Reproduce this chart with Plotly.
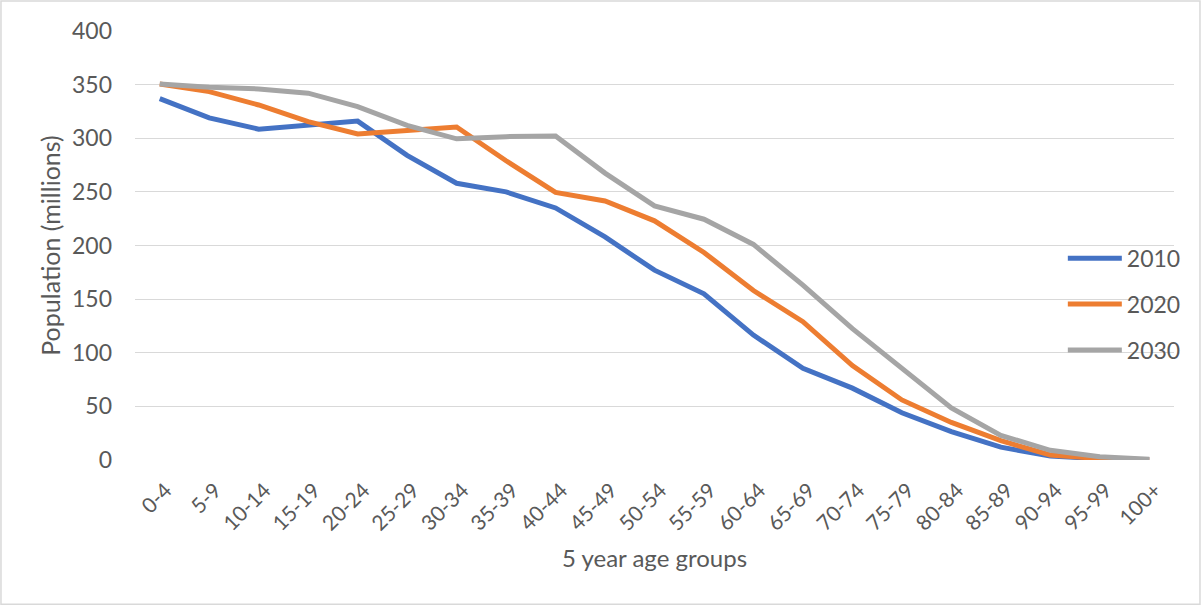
import plotly.graph_objects as go

# age groups on the category axis
age_groups = ['0-4', '5-9', '10-14', '15-19', '20-24', '25-29', '30-34', '35-39',
              '40-44', '45-49', '50-54', '55-59', '60-64', '65-69', '70-74', '75-79',
              '80-84', '85-89', '90-94', '95-99', '100+']

# population in millions
pop_2010 = [337, 319, 308.5, 312, 316, 284, 258, 250, 235, 208, 177, 155, 116.5,
            85.5, 67, 44, 26.5, 12, 3.7, 1.2, 0.3]
pop_2020 = [350.5, 343.5, 331, 315.5, 304, 307, 310.5, 279, 249.5, 241.5, 223,
            193.5, 158, 129, 88, 56, 35, 18, 4.7, 1.3, 0.3]
pop_2030 = [350.5, 347.5, 346, 342, 329.5, 312, 299.5, 301.5, 302, 267.5, 237,
            224.5, 201, 163, 122.5, 85.5, 48.5, 23, 9, 3, 0.6]

series = [('2010', pop_2010, '#4472C4'),
          ('2020', pop_2020, '#ED7D31'),
          ('2030', pop_2030, '#A5A5A5')]

FONT = 'Lato, Carlito, Calibri, sans-serif'
FONT_SIZE = 23
GREY_TEXT = '#595959'
GRID = '#D9D9D9'

fig = go.Figure()

for name, values, color in series:
    fig.add_trace(go.Scatter(
        x=age_groups,
        y=values,
        mode='lines',
        name=name,
        legendgroup=name,
        line=dict(color=color, width=5),
    ))

# outer chart border (plot area spans 135..1174 x 31..460 px)
fig.add_shape(
    type='rect', xref='paper', yref='paper',
    x0=-0.129, x1=1.025, y0=-0.336, y1=1.070,
    line=dict(color=GRID, width=1.5), fillcolor='rgba(0,0,0,0)',
    layer='below',
)

fig.update_layout(
    width=1202,
    height=606,
    # legend sits over the plot like in Excel, so don't let it push the margins
    margin=dict(l=135, r=28, t=31, b=146, autoexpand=False),
    plot_bgcolor='white',
    paper_bgcolor='white',
    font=dict(family=FONT, size=FONT_SIZE, color=GREY_TEXT),
    showlegend=True,
    legend=dict(
        x=0.893, xanchor='left',
        y=0.363, yanchor='middle',
        bgcolor='rgba(0,0,0,0)',
        tracegroupgap=13,
        itemwidth=54,
        font=dict(size=FONT_SIZE, color=GREY_TEXT),
    ),
    xaxis=dict(
        type='category',
        range=[-0.5, len(age_groups) - 0.5],
        tickangle=-45,
        showgrid=False,
        showline=False,
        zeroline=False,
        ticks='',
        ticklabelstandoff=13,
        ticklabelshift=6,
        tickfont=dict(size=21),
        title=dict(text='5 year age groups', standoff=16,
                   font=dict(size=24, color=GREY_TEXT)),
    ),
    yaxis=dict(
        range=[0, 400],
        dtick=50,
        showgrid=True,
        gridcolor=GRID,
        gridwidth=1.3,
        zeroline=False,
        showline=False,
        ticks='',
        ticklabelstandoff=22,
        title=dict(text='Population (millions)', standoff=4,
                   font=dict(size=25, color=GREY_TEXT)),
    ),
)

fig.write_html("out.html", config={'displayModeBar': False},
               post_script="document.body.style.margin='0';")
